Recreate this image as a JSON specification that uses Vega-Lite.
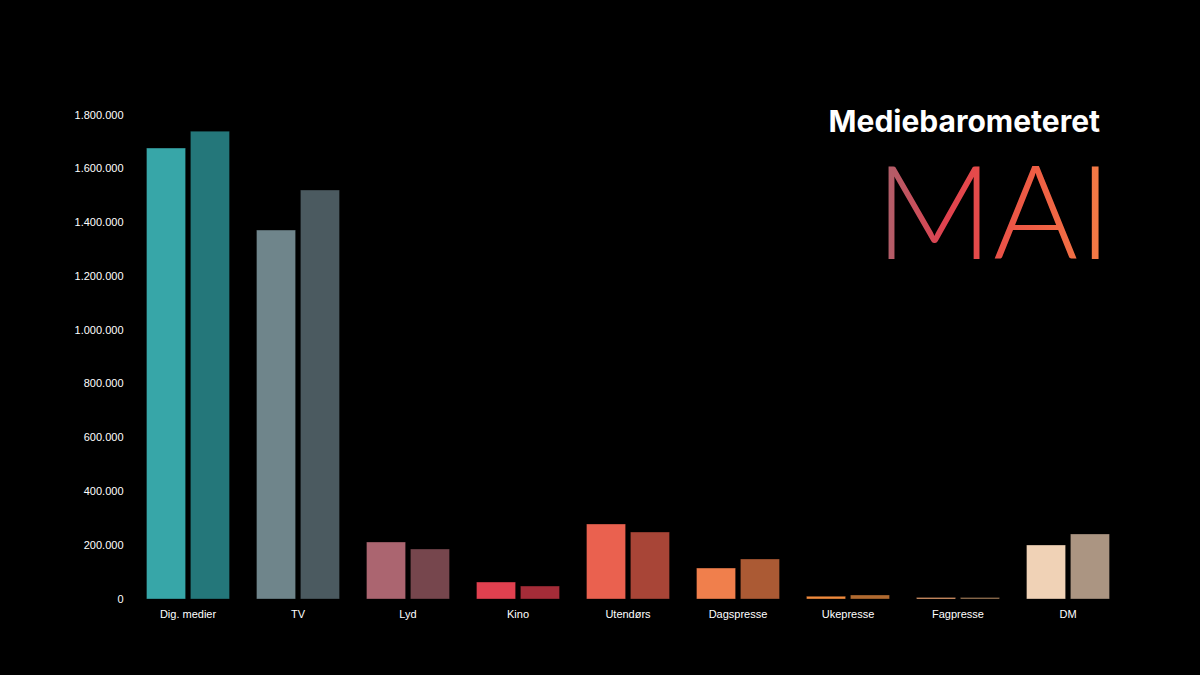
{
  "$schema": "https://vega.github.io/schema/vega-lite/v6.json",
  "width": 990,
  "height": 484,
  "autosize": {"type": "none"},
  "padding": {"left": 133, "top": 115, "right": 77, "bottom": 76},
  "background": "#000000",
  "title": {
    "text": "Mediebarometeret",
    "subtitle": "MAI",
    "anchor": "end",
    "frame": "group",
    "orient": "top",
    "offset": 0,
    "dx": -23,
    "dy": 176,
    "font": "Inter",
    "fontSize": 30,
    "fontWeight": "bold",
    "color": "#ffffff",
    "subtitleFont": "Lato",
    "subtitleFontSize": 130,
    "subtitleFontWeight": 300,
    "subtitleColor": "#e24b4c",
    "subtitlePadding": 18,
    "encode": {
      "subtitle": {
        "update": {
          "dx": {"value": -11},
          "fill": {"value": {"gradient": "linear", "x1": 0, "y1": 0, "x2": 1, "y2": 0, "stops": [
            {"offset": 0, "color": "#a8646f"},
            {"offset": 0.3, "color": "#e0414e"},
            {"offset": 0.65, "color": "#ee5b44"},
            {"offset": 1, "color": "#f47f45"}
          ]}}
        }
      }
    }
  },
  "config": {
    "locale": {"number": {"decimal": ",", "thousands": ".", "grouping": [3], "currency": ["", " kr"]}},
    "view": {"stroke": null},
    "axis": {"labelFont": "Liberation Sans", "labelFontSize": 11, "labelColor": "#ffffff", "domain": false, "ticks": false, "grid": false, "title": null}
  },
  "data": {
    "values": [
      {"kategori": "Dig. medier", "periode": "2022", "key": "Dig. medier 2022", "verdi": 1677000},
      {"kategori": "Dig. medier", "periode": "2023", "key": "Dig. medier 2023", "verdi": 1740000},
      {"kategori": "TV", "periode": "2022", "key": "TV 2022", "verdi": 1372000},
      {"kategori": "TV", "periode": "2023", "key": "TV 2023", "verdi": 1521000},
      {"kategori": "Lyd", "periode": "2022", "key": "Lyd 2022", "verdi": 212000},
      {"kategori": "Lyd", "periode": "2023", "key": "Lyd 2023", "verdi": 186000},
      {"kategori": "Kino", "periode": "2022", "key": "Kino 2022", "verdi": 63000},
      {"kategori": "Kino", "periode": "2023", "key": "Kino 2023", "verdi": 48000},
      {"kategori": "Utendørs", "periode": "2022", "key": "Utendørs 2022", "verdi": 279000},
      {"kategori": "Utendørs", "periode": "2023", "key": "Utendørs 2023", "verdi": 249000},
      {"kategori": "Dagspresse", "periode": "2022", "key": "Dagspresse 2022", "verdi": 115000},
      {"kategori": "Dagspresse", "periode": "2023", "key": "Dagspresse 2023", "verdi": 149000},
      {"kategori": "Ukepresse", "periode": "2022", "key": "Ukepresse 2022", "verdi": 10000},
      {"kategori": "Ukepresse", "periode": "2023", "key": "Ukepresse 2023", "verdi": 15000},
      {"kategori": "Fagpresse", "periode": "2022", "key": "Fagpresse 2022", "verdi": 6000},
      {"kategori": "Fagpresse", "periode": "2023", "key": "Fagpresse 2023", "verdi": 6000},
      {"kategori": "DM", "periode": "2022", "key": "DM 2022", "verdi": 201000},
      {"kategori": "DM", "periode": "2023", "key": "DM 2023", "verdi": 242000}
    ]
  },
  "mark": {"type": "bar", "stroke": "#000000", "strokeOpacity": 0.35, "strokeWidth": 1},
  "encoding": {
    "x": {
      "field": "kategori",
      "type": "nominal",
      "sort": null,
      "scale": {"paddingInner": 0.245, "paddingOuter": 0.1225},
      "axis": {"labelAngle": 0, "labelPadding": 15, "labelBaseline": "middle"}
    },
    "xOffset": {"field": "periode", "type": "nominal", "scale": {"paddingInner": 0.11, "paddingOuter": 0}},
    "y": {
      "field": "verdi",
      "type": "quantitative",
      "scale": {"domain": [0, 1800000], "nice": false},
      "axis": {"values": [0, 200000, 400000, 600000, 800000, 1000000, 1200000, 1400000, 1600000, 1800000], "format": ",d", "labelPadding": 10}
    },
    "color": {
      "field": "key",
      "type": "nominal",
      "legend": null,
      "scale": {
        "domain": ["Dig. medier 2022", "Dig. medier 2023", "TV 2022", "TV 2023", "Lyd 2022", "Lyd 2023", "Kino 2022", "Kino 2023", "Utendørs 2022", "Utendørs 2023", "Dagspresse 2022", "Dagspresse 2023", "Ukepresse 2022", "Ukepresse 2023", "Fagpresse 2022", "Fagpresse 2023", "DM 2022", "DM 2023"],
        "range": ["#37a6a8", "#24777a", "#6f858b", "#4b5a60", "#ab6570", "#76464d", "#e0404f", "#a42c38", "#ea614f", "#a84537", "#f07f4c", "#ab5a34", "#f08a3c", "#b06a30", "#e8a070", "#a07a58", "#f0d2b6", "#ab9582"]
      }
    }
  }
}
